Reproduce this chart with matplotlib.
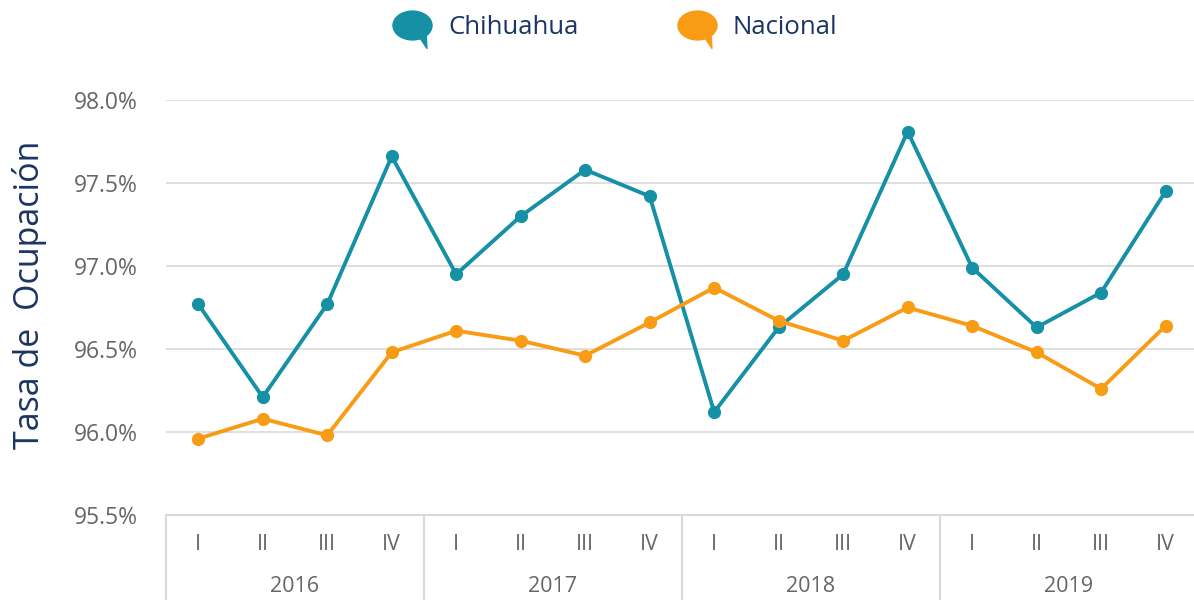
import numpy as np
import matplotlib
matplotlib.use('Agg')
import matplotlib.pyplot as plt
from matplotlib.path import Path
from matplotlib.transforms import Affine2D
from matplotlib.lines import Line2D

plt.rcParams['font.family'] = ['Open Sans', 'DejaVu Sans']

# data
years = ['2016', '2017', '2018', '2019']
quarters = ['I', 'II', 'III', 'IV']
chihuahua = [96.77, 96.21, 96.77, 97.66,
             96.95, 97.30, 97.58, 97.42,
             96.12, 96.63, 96.95, 97.81,
             96.99, 96.63, 96.84, 97.45]
nacional = [95.96, 96.08, 95.98, 96.48,
            96.61, 96.55, 96.46, 96.66,
            96.87, 96.67, 96.55, 96.75,
            96.64, 96.48, 96.26, 96.64]
yticks = [95.5, 96.0, 96.5, 97.0, 97.5, 98.0]

teal = '#1590A5'
orange = '#F89C16'
navy = '#1B3563'
grey_txt = '#666666'
grid_c = '#D9D9D9'

fig = plt.figure(figsize=(11.94, 6), dpi=100)
ax = fig.add_axes([166 / 1194, 85 / 600, 1 - 166 / 1194, 415 / 600])

x = np.arange(len(chihuahua))
ax.plot(x, chihuahua, color=teal, lw=2.8, marker='o', ms=8.5, zorder=3)
ax.plot(x, nacional, color=orange, lw=2.8, marker='o', ms=8.5, zorder=3)

ax.set_xlim(-0.5, 15.44)
ax.set_ylim(95.5, 98.0)
ax.set_yticks(yticks)
ax.set_yticklabels([f'{v:.1f}%' for v in yticks], color=grey_txt, fontsize=16.5)
ax.tick_params(axis='y', length=0, pad=20)
ax.set_xticks([])
ax.grid(axis='y', color=grid_c, lw=1.2)
ax.set_axisbelow(True)
for s in ['top', 'right', 'left']:
    ax.spines[s].set_visible(False)
ax.spines['bottom'].set_color(grid_c)
ax.spines['bottom'].set_linewidth(1.5)

ax.set_ylabel('Tasa de  Ocupación', color=navy, fontsize=24.5)
ax.yaxis.set_label_coords((47 - 166) / 1028, 0.53)

# category table below the axis
tr = ax.get_xaxis_transform()
for i in range(len(x)):
    ax.text(i, -0.072, quarters[i % 4], transform=tr, ha='center', va='center',
            color=grey_txt, fontsize=15.5)
for j, yr in enumerate(years):
    ax.text(j * 4 + 1.5, -0.173, yr, transform=tr, ha='center', va='center',
            color=grey_txt, fontsize=15.5)
    ax.plot([j * 4 - 0.5] * 2, [0, -0.21], transform=tr, color=grid_c,
            lw=1.5, clip_on=False)

# speech bubble legend markers
circ = Path.unit_circle().transformed(Affine2D().scale(1.15, 0.85))
tail = Path([(0.35, -0.6), (0.85, -1.35), (0.8, -0.4), (0.35, -0.6)],
            [Path.MOVETO, Path.LINETO, Path.LINETO, Path.CLOSEPOLY])
bubble = Path.make_compound_path(circ, tail)

handles = [Line2D([], [], ls='none', marker=bubble, ms=33, color=teal, mec=teal),
           Line2D([], [], ls='none', marker=bubble, ms=33, color=orange, mec=orange)]
leg = fig.legend(handles, ['Chihuahua', 'Nacional'], loc='center',
                 bbox_to_anchor=(612 / 1194, 1 - 27 / 600), ncol=2, frameon=False,
                 fontsize=18.5, columnspacing=3.6, handletextpad=0.4)
for t in leg.get_texts():
    t.set_color(navy)

fig.savefig('out.png', dpi=100)
